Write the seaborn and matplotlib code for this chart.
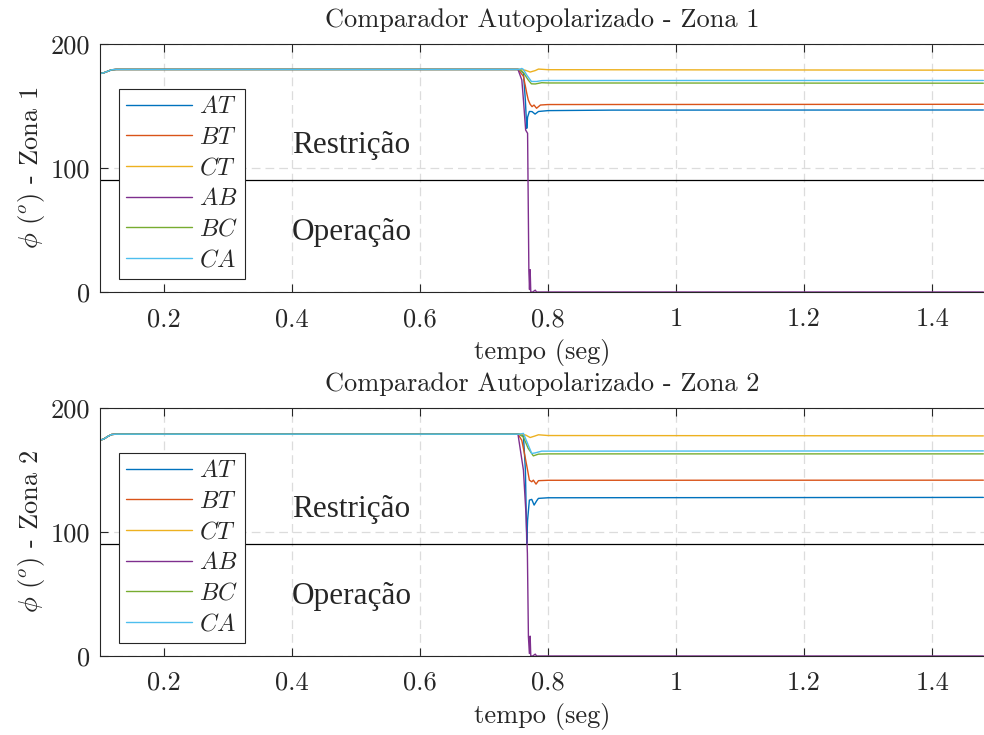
import numpy as np
import pandas as pd
import matplotlib
matplotlib.use("Agg")
import matplotlib.pyplot as plt
from matplotlib.ticker import FuncFormatter
import seaborn as sns

# ---- data -------------------------------------------------------------
phases = ["AT", "BT", "CT", "AB", "BC", "CA"]
colors = ["#0072BD", "#D95319", "#EDB120", "#7E2F8E", "#77AC30", "#4DBEEE"]

# start-up ramp shared by every loop (time in s)
t_start = [0.100, 0.106, 0.112, 0.118, 0.125, 0.750]
v_start_z1 = [176.2, 176.8, 178.0, 179.2, 179.5, 179.5]
v_start_z2 = [174.0, 175.0, 177.0, 178.6, 178.9, 178.9]

# Zona 1: fault transient and post-fault angles
z1_AT_t = [0.755, 0.7615, 0.7645, 0.7667, 0.768, 0.7708, 0.775, 0.7797, 0.785, 0.80, 0.90, 1.48]
z1_AT_v = [179.5, 176.5, 155.0, 132.0, 141.0, 145.6, 145.5, 143.5, 145.6, 146.3, 146.7, 146.8]
z1_BT_t = [0.753, 0.7615, 0.7667, 0.769, 0.772, 0.775, 0.778, 0.782, 0.788, 0.80, 1.48]
z1_BT_v = [179.5, 174.0, 160.3, 155.0, 151.4, 149.5, 150.8, 148.2, 150.8, 151.2, 151.4]
z1_CT_t = [0.755, 0.765, 0.772, 0.780, 0.785, 0.80, 1.48]
z1_CT_v = [179.5, 178.8, 177.4, 178.6, 179.8, 179.3, 178.9]
z1_AB_t = [0.753, 0.759, 0.7615, 0.765, 0.768, 0.770, 0.771, 0.772, 0.773, 0.776, 0.780, 0.782, 1.48]
z1_AB_v = [179.5, 171.0, 155.0, 130.6, 128.0, 17.0, 2.0, 18.0, 0.0, 0.0, 1.5, 0.0, 0.0]
z1_BC_t = [0.755, 0.7615, 0.769, 0.774, 0.780, 0.790, 0.80, 1.48]
z1_BC_v = [179.5, 177.0, 171.0, 167.9, 167.8, 168.8, 168.6, 168.4]
z1_CA_t = [0.755, 0.759, 0.7615, 0.7667, 0.774, 0.782, 0.790, 0.80, 1.48]
z1_CA_v = [179.5, 180.3, 179.5, 175.0, 169.8, 169.8, 170.5, 170.6, 170.6]

# Zona 2: fault transient and post-fault angles
z2_AT_t = [0.755, 0.7615, 0.7646, 0.7667, 0.768, 0.7708, 0.7745, 0.7782, 0.782, 0.7849, 0.80, 1.48]
z2_AT_v = [178.9, 177.6, 149.9, 90.8, 109.6, 125.7, 126.3, 121.7, 125.0, 127.1, 127.6, 127.9]
z2_BT_t = [0.753, 0.7589, 0.7641, 0.768, 0.7708, 0.7745, 0.777, 0.7812, 0.785, 0.80, 1.48]
z2_BT_v = [178.9, 174.0, 160.6, 149.9, 141.8, 140.5, 141.8, 138.6, 141.4, 141.7, 141.8]
z2_CT_t = [0.755, 0.765, 0.772, 0.780, 0.785, 0.80, 1.48]
z2_CT_v = [178.9, 178.2, 176.2, 177.5, 178.4, 177.8, 177.5]
z2_AB_t = [0.753, 0.7615, 0.7656, 0.7677, 0.7693, 0.7708, 0.772, 0.773, 0.776, 0.780, 0.782, 1.48]
z2_AB_v = [178.9, 149.9, 113.6, 82.7, 15.6, 2.0, 16.0, 0.0, 0.0, 1.5, 0.0, 0.0]
z2_BC_t = [0.755, 0.7615, 0.769, 0.777, 0.785, 0.80, 1.48]
z2_BC_v = [178.9, 176.5, 167.4, 161.4, 162.8, 163.0, 163.0]
z2_CA_t = [0.755, 0.7615, 0.768, 0.7745, 0.780, 0.790, 1.48]
z2_CA_v = [178.9, 179.5, 171.4, 163.3, 163.8, 165.2, 165.4]

threshold = 90.0
x_ticks = [0.2, 0.4, 0.6, 0.8, 1.0, 1.2, 1.4]
y_ticks = [0, 100, 200]

zones = {
    1: (v_start_z1, {"AT": (z1_AT_t, z1_AT_v), "BT": (z1_BT_t, z1_BT_v),
                     "CT": (z1_CT_t, z1_CT_v), "AB": (z1_AB_t, z1_AB_v),
                     "BC": (z1_BC_t, z1_BC_v), "CA": (z1_CA_t, z1_CA_v)}),
    2: (v_start_z2, {"AT": (z2_AT_t, z2_AT_v), "BT": (z2_BT_t, z2_BT_v),
                     "CT": (z2_CT_t, z2_CT_v), "AB": (z2_AB_t, z2_AB_v),
                     "BC": (z2_BC_t, z2_BC_v), "CA": (z2_CA_t, z2_CA_v)}),
}

rows = []
for zone, (v_start, series) in zones.items():
    for ph in phases:
        t_tr, v_tr = series[ph]
        for t, v in zip(t_start + t_tr, v_start + v_tr):
            rows.append({"zona": zone, "fase": ph, "t": t, "phi": v})
df = pd.DataFrame(rows)

# ---- style ------------------------------------------------------------
sns.set_style("white")
plt.rcParams["font.family"] = ["cmr10", "DejaVu Serif"]
plt.rcParams["mathtext.fontset"] = "cm"
plt.rcParams["axes.unicode_minus"] = False
plt.rcParams["axes.formatter.use_mathtext"] = True

fs = 19
edge = "#262626"

fig = plt.figure(figsize=(9.84, 7.35), dpi=100)
axes_rect = {1: [0.1016, 0.6027, 0.8984, 0.3374],
             2: [0.1016, 0.1075, 0.8984, 0.3374]}

for zone in (1, 2):
    ax = fig.add_axes(axes_rect[zone])
    sub = df[df["zona"] == zone]
    sns.lineplot(data=sub, x="t", y="phi", hue="fase", hue_order=phases,
                 palette=colors, estimator=None, sort=False, linewidth=1.0,
                 ax=ax, legend=False)
    ax.axhline(threshold, color="black", linewidth=0.9, zorder=1)

    ax.set_xlim(0.1, 1.481)
    ax.set_ylim(0, 200)
    ax.set_xticks(x_ticks)
    ax.set_yticks(y_ticks)
    ax.xaxis.set_major_formatter(FuncFormatter(lambda v, p: f"{v:g}"))
    ax.yaxis.set_major_formatter(FuncFormatter(lambda v, p: f"{v:g}"))
    ax.tick_params(direction="in", length=6, width=0.8, color=edge,
                   labelsize=fs, top=True, bottom=True, left=True, right=False)
    ax.tick_params(axis="x", pad=11)
    ax.tick_params(axis="y", pad=7)
    for name, sp in ax.spines.items():
        sp.set_color(edge)
        sp.set_linewidth(0.8)
    ax.spines["right"].set_visible(False)

    ax.grid(True, color="#dcdcdc", linestyle=(0, (7, 4)), linewidth=0.9)
    ax.set_axisbelow(True)

    ax.set_title(f"Comparador Autopolarizado - Zona {zone}", fontsize=fs, pad=12)
    ax.set_xlabel("tempo (seg)", fontsize=fs, labelpad=6)
    ax.set_ylabel(r"$\phi$ ($^o$) - Zona " + str(zone), fontsize=fs, labelpad=3)

    ax.text(0.4, 118, "Restrição", fontsize=22.5, family="Liberation Serif",
            va="center", ha="left")
    ax.text(0.4, 48, "Operação", fontsize=22.5, family="Liberation Serif",
            va="center", ha="left")

    handles = [plt.Line2D([], [], color=c, linewidth=1.0) for c in colors]
    leg = ax.legend(handles, [f"${p}$" for p in phases], loc="upper left",
                    bbox_to_anchor=(0.0215, 0.819), borderaxespad=0,
                    fontsize=17.5, frameon=True, fancybox=False, framealpha=1,
                    edgecolor=edge, handlelength=2.7, handletextpad=0.3,
                    labelspacing=0.35, borderpad=0.3)
    leg.get_frame().set_linewidth(0.8)

fig.savefig("out.png", dpi=100)
